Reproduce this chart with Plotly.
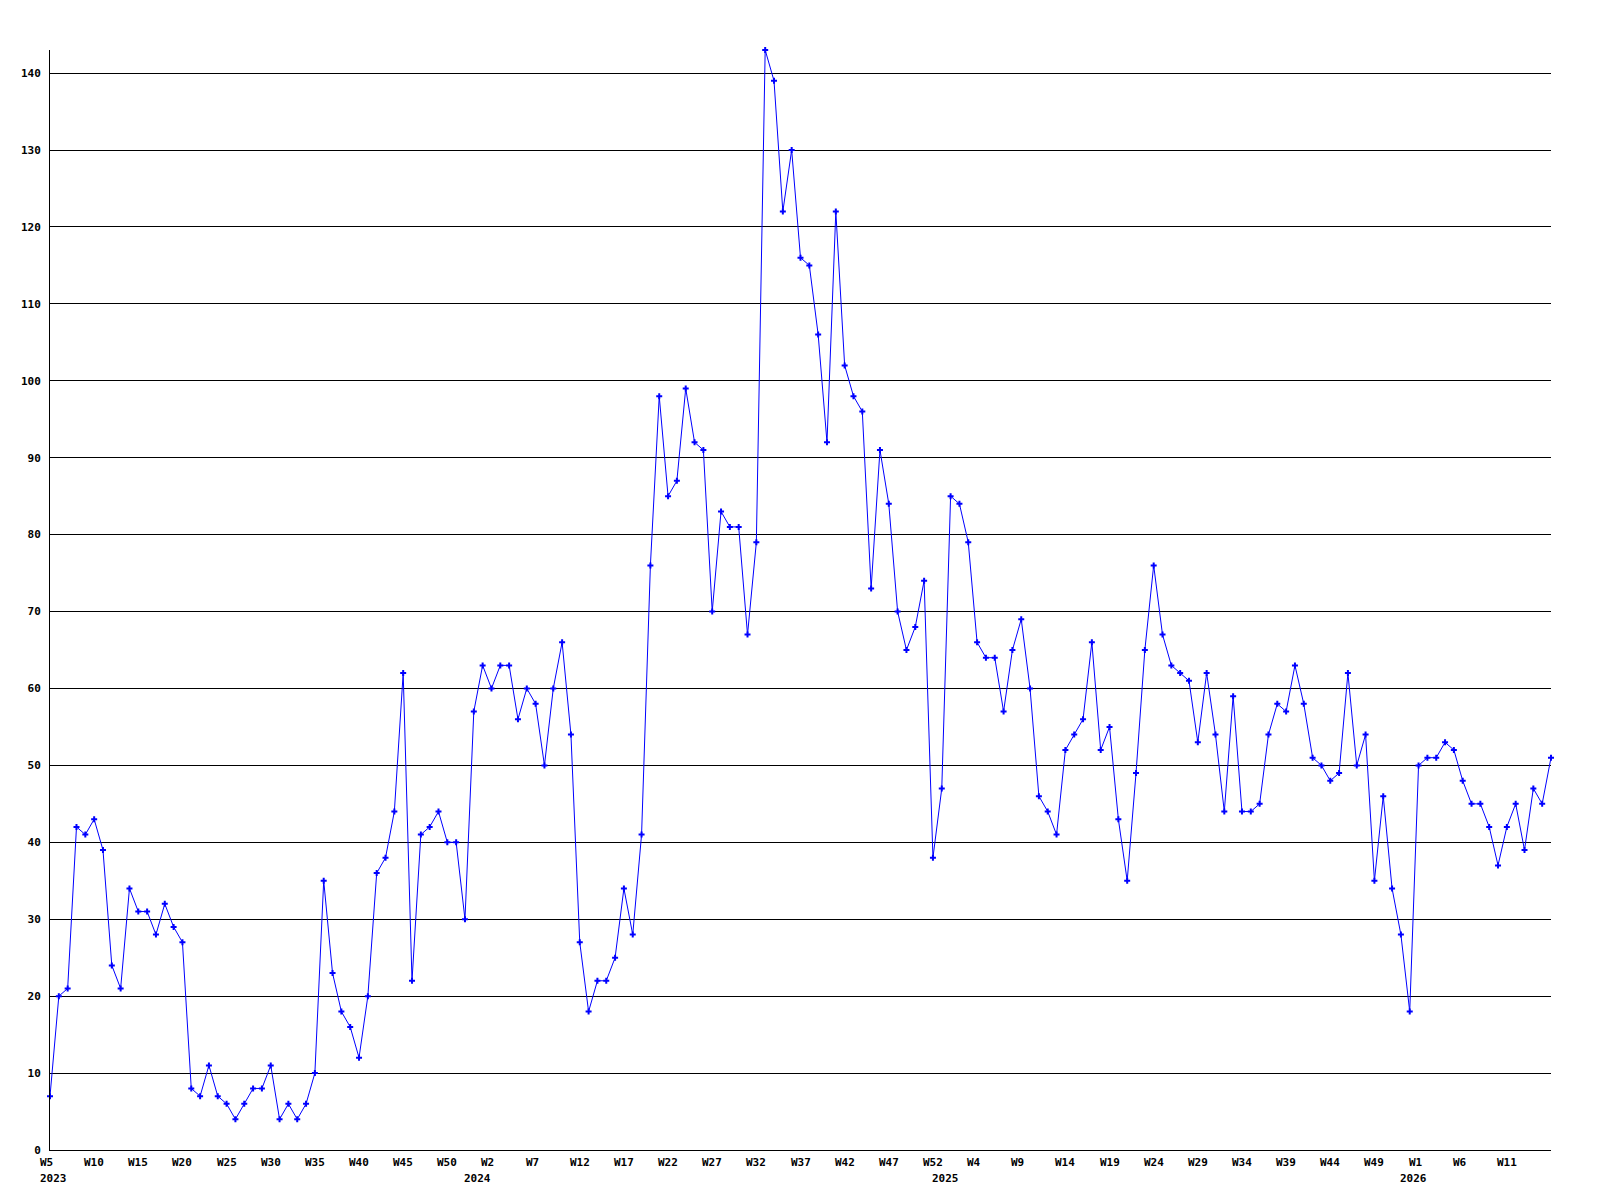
import plotly.graph_objects as go

# --- data ---------------------------------------------------------------
year_weeks = [(2023, 5, 52), (2024, 0, 52), (2025, 0, 52), (2026, 0, 16)]

values = [
    7, 20, 21, 42, 41, 43, 39, 24, 21, 34, 31, 31, 28, 32, 29, 27, 8, 7, 11, 7,
    6, 4, 6, 8, 8, 11, 4, 6, 4, 6, 10, 35, 23, 18, 16, 12, 20, 36, 38, 44,
    62, 22, 41, 42, 44, 40, 40, 30, 57, 63, 60, 63, 63, 56, 60, 58, 50, 60, 66, 54,
    27, 18, 22, 22, 25, 34, 28, 41, 76, 98, 85, 87, 99, 92, 91, 70, 83, 81, 81, 67,
    79, 143, 139, 122, 130, 116, 115, 106, 92, 122, 102, 98, 96, 73, 91, 84, 70, 65, 68, 74,
    38, 47, 85, 84, 79, 66, 64, 64, 57, 65, 69, 60, 46, 44, 41, 52, 54, 56, 66, 52,
    55, 43, 35, 49, 65, 76, 67, 63, 62, 61, 53, 62, 54, 44, 59, 44, 44, 45, 54, 58,
    57, 63, 58, 51, 50, 48, 49, 62, 50, 54, 35, 46, 34, 28, 18, 50, 51, 51, 53, 52,
    48, 45, 45, 42, 37, 42, 45, 39, 47, 45, 51,
]

y_ticks = [0, 10, 20, 30, 40, 50, 60, 70, 80, 90, 100, 110, 120, 130, 140]
label_every = 5

# --- build categories ---------------------------------------------------
cats, week_txt, year_of = [], [], []
for yr, w0, w1 in year_weeks:
    for w in range(w0, w1 + 1):
        cats.append(f"{yr}-W{w:02d}")
        week_txt.append(f"W{w}")
        year_of.append(yr)

FONT = dict(family="DejaVu Sans Mono", size=11, color="black", weight="bold")

fig = go.Figure()
fig.add_trace(go.Scatter(
    x=cats, y=values, mode="lines+markers",
    line=dict(color="#0000FF", width=1),
    marker=dict(symbol="cross", size=5, color="#0000FF", line=dict(width=0)),
    cliponaxis=False, showlegend=False,
))

annotations = []
n = len(cats)
for i, c in enumerate(cats):
    if i % label_every == 0 and i < n - 1:
        annotations.append(dict(
            x=c, xref="x", y=0, yref="paper", text=week_txt[i], showarrow=False,
            xanchor="left", yanchor="top", xshift=-12, yshift=-4, font=FONT,
        ))
    if i == 0 or year_of[i] != year_of[i - 1]:
        annotations.append(dict(
            x=c, xref="x", y=0, yref="paper", text=str(year_of[i]), showarrow=False,
            xanchor="left", yanchor="top", xshift=-12, yshift=-20, font=FONT,
        ))

fig.update_layout(
    width=1592, height=1192,
    margin=dict(l=42, r=49, t=42, b=50, autoexpand=False),
    paper_bgcolor="white", plot_bgcolor="white",
    annotations=annotations,
    xaxis=dict(
        type="category", range=[0, n - 1], showgrid=False,
        showline=True, linecolor="black", linewidth=1,
        showticklabels=False, ticks="", zeroline=False,
    ),
    yaxis=dict(
        range=[0, max(values)], tickvals=y_ticks, ticktext=[str(t) for t in y_ticks],
        showgrid=True, gridcolor="black", gridwidth=1,
        showline=True, linecolor="black", linewidth=1,
        ticks="", ticklabelstandoff=6, tickfont=FONT, zeroline=False,
    ),
)

fig.write_html("out.html")
